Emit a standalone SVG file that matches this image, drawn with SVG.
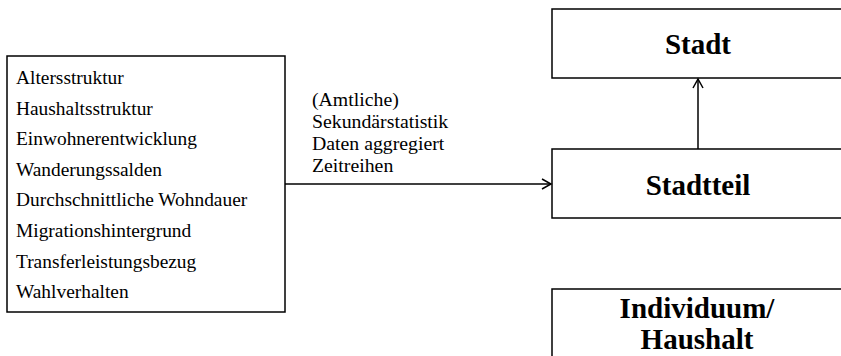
<svg xmlns="http://www.w3.org/2000/svg" width="841" height="356" viewBox="0 0 841 356">
<defs>
<style>
.box{fill:#fff;stroke:#000;stroke-width:1.5}
.t{font-family:"Liberation Serif","Times New Roman",serif;font-size:19.4px;fill:#000}
.l{font-family:"Liberation Serif","Times New Roman",serif;font-size:19.8px;fill:#000}
.b{font-family:"Liberation Serif","Times New Roman",serif;font-size:29px;font-weight:bold;fill:#000;text-anchor:middle}
.c{fill:none;stroke:#000;stroke-width:1.5}
</style>
<marker id="ah" markerWidth="12" markerHeight="12" refX="10" refY="6" orient="auto" markerUnits="userSpaceOnUse">
<path d="M1,1 L10,6 L1,11" fill="none" stroke="#000" stroke-width="1.5"/>
</marker>
</defs>
<rect width="841" height="356" fill="#fff"/>
<g id="indicators">
<rect class="box" x="7" y="56" width="278" height="256"/>
<text class="t" x="16" y="84">Altersstruktur</text>
<text class="t" x="16" y="114.6">Haushaltsstruktur</text>
<text class="t" x="16" y="145.2">Einwohnerentwicklung</text>
<text class="t" x="16" y="175.8">Wanderungssalden</text>
<text class="t" x="16" y="206.4">Durchschnittliche Wohndauer</text>
<text class="t" x="16" y="237">Migrationshintergrund</text>
<text class="t" x="16" y="267.6">Transferleistungsbezug</text>
<text class="t" x="16" y="298.2">Wahlverhalten</text>
</g>
<g id="stadt">
<rect class="box" x="552" y="9" width="290" height="69"/>
<text class="b" x="698" y="54">Stadt</text>
</g>
<g id="stadtteil">
<rect class="box" x="552" y="149" width="290" height="69"/>
<text class="b" x="698" y="195">Stadtteil</text>
</g>
<g id="individuum">
<rect class="box" x="552" y="289" width="290" height="80"/>
<text class="b" x="697" y="318">Individuum/</text>
<text class="b" x="697" y="349">Haushalt</text>
</g>
<g id="connectors">
<line class="c" x1="285" y1="184" x2="551" y2="184" marker-end="url(#ah)"/>
<line class="c" x1="698" y1="149" x2="698" y2="79" marker-end="url(#ah)"/>
<text class="l" x="312" y="106">(Amtliche)</text>
<text class="l" x="312" y="128">Sekundärstatistik</text>
<text class="l" x="312" y="150">Daten aggregiert</text>
<text class="l" x="312" y="172">Zeitreihen</text>
</g>
</svg>
